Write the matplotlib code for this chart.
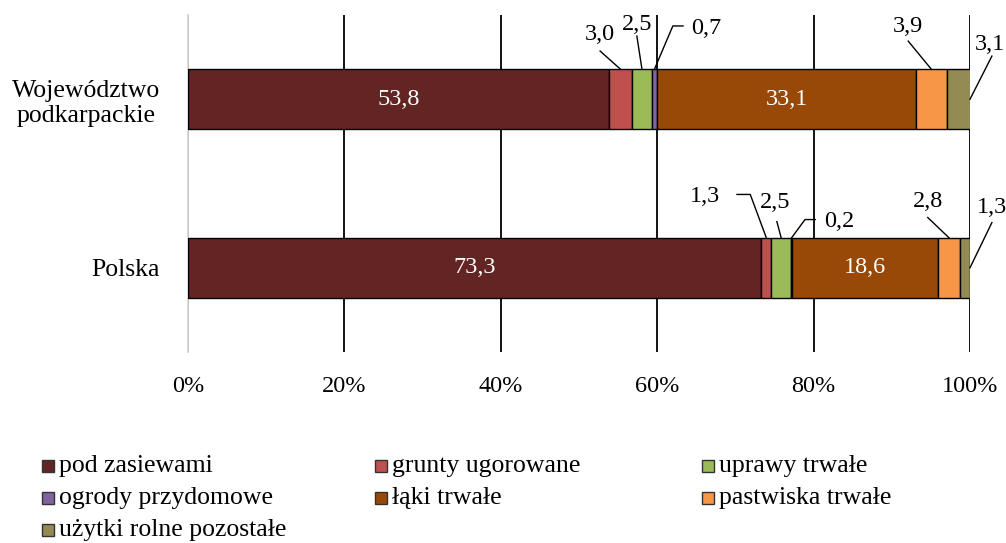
import numpy as np
import matplotlib.pyplot as plt
from matplotlib.patches import Rectangle

plt.rcParams['font.family'] = ['Liberation Serif', 'DejaVu Serif']

categories = ["Polska", "Województwo\npodkarpackie"]
series = ["pod zasiewami", "grunty ugorowane", "uprawy trwałe",
          "ogrody przydomowe", "łąki trwałe", "pastwiska trwałe",
          "użytki rolne pozostałe"]
colors = ["#632523", "#C0504D", "#9BBB59", "#8064A2", "#984807", "#F79646", "#948A54"]
polska = [73.3, 1.3, 2.5, 0.2, 18.6, 2.8, 1.3]
podkarpackie = [53.8, 3.0, 2.5, 0.7, 33.1, 3.9, 3.1]
values = np.array([polska, podkarpackie])
tick_labels = ["0%", "20%", "40%", "60%", "80%", "100%"]

# labels drawn inside the bars (white)
inside = {0, 4}

# outside labels: (row, series idx, text pos, leader start / elbow, ha)
outside = [
    (1, 1, (52.7, 1.387), [(52.7, 1.286)], 'center'),
    (1, 2, (57.4, 1.446), [(57.4, 1.375)], 'center'),
    (1, 3, (64.4, 1.417), [(63.3, 1.435), (62.0, 1.435)], 'left'),
    (1, 5, (92.1, 1.430), [(92.1, 1.345)], 'center'),
    (1, 6, (102.6, 1.327), [(102.8, 1.256)], 'center'),
    (0, 1, (66.1, 0.423), [(70.2, 0.435), (71.9, 0.435)], 'center'),
    (0, 2, (75.1, 0.387), [(75.3, 0.274)], 'center'),
    (0, 3, (81.3, 0.274), [(80.2, 0.286), (78.9, 0.286)], 'left'),
    (0, 5, (94.6, 0.393), [(94.6, 0.298)], 'center'),
    (0, 6, (102.8, 0.357), [(102.8, 0.268)], 'center'),
]

fs = 17.5
bar_h = 0.357

fig = plt.figure(figsize=(10.06, 5.43), dpi=100)
ax = fig.add_axes([188/1006, 1-352/543, 782/1006, 337/543])

ypos = np.arange(len(categories))
left = np.zeros(len(categories))
for i, name in enumerate(series):
    ax.barh(ypos, values[:, i], left=left, height=bar_h, color=colors[i],
            edgecolor='black', linewidth=1.0, label=name, zorder=3)
    if i in inside:
        for r in range(len(categories)):
            ax.text(left[r] + values[r, i] / 2, ypos[r], f"{values[r, i]:.1f}".replace('.', ','),
                    color='white', ha='center', va='center', fontsize=fs, zorder=5)
    left = left + values[:, i]

starts = np.cumsum(values, axis=1) - values
for r, i, tpos, path, ha in outside:
    v = values[r, i]
    if i == len(series) - 1:
        end = (min(starts[r, i] + v, 100), ypos[r])
    else:
        end = (starts[r, i] + v / 2, ypos[r] + bar_h / 2)
    pts = path + [end]
    ax.plot([p[0] for p in pts], [p[1] for p in pts], color='black', lw=1.0,
            zorder=4, clip_on=False)
    ax.text(tpos[0], tpos[1], f"{v:.1f}".replace('.', ','), ha=ha, va='center',
            fontsize=fs, zorder=5, clip_on=False)

ax.set_xlim(0, 100)
ax.set_ylim(-0.5, 1.5)
ax.set_xticks(np.arange(0, 101, 20))
ax.set_xticklabels(tick_labels, fontsize=fs)
ax.set_yticks(ypos)
ax.set_yticklabels(categories, fontsize=18.5, multialignment='center')
ax.tick_params(length=0, pad=20)
ax.tick_params(axis='x', pad=17)
ax.grid(axis='x', color='black', lw=1.3, zorder=1)
for s in ['top', 'right', 'bottom']:
    ax.spines[s].set_visible(False)
ax.spines['left'].set_color('#d9d9d9')
ax.spines['left'].set_linewidth(1.3)

# legend laid out row by row like the source
col_x = [42, 375, 702]
row_y = [466, 498, 530]
for k, name in enumerate(series):
    cx = col_x[k % 3]
    cy = row_y[k // 3]
    fig.patches.append(Rectangle((cx/1006, 1-(cy+6)/543), 12/1006, 12/543,
                                 transform=fig.transFigure, facecolor=colors[k],
                                 edgecolor='#333333', lw=1.0))
    fig.text((cx+17)/1006, 1-cy/543, name, fontsize=18.5, va='center', ha='left')

fig.savefig("out.png", dpi=100)
